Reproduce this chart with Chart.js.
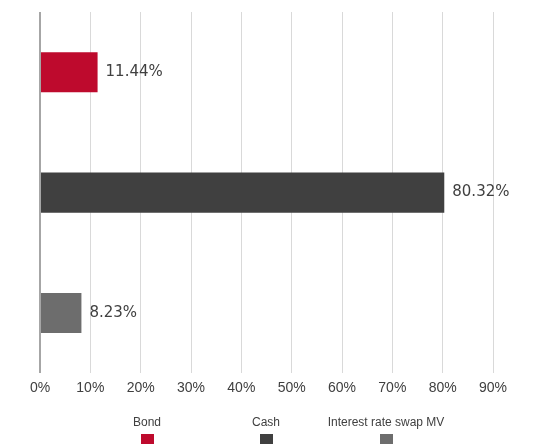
<!DOCTYPE html>
<html>
<head>
<meta charset="utf-8">
<script src="https://cdn.jsdelivr.net/npm/chart.js@4/dist/chart.umd.min.js"></script>
<style>
  html, body { margin: 0; padding: 0; background: #fff; }
  #wrap { position: relative; width: 555px; height: 444px; }
  #legend { position: absolute; top: 0; left: 0; width: 555px; height: 444px; pointer-events: none;
            font-family: "Liberation Sans", Arial, sans-serif; font-size: 12px; color: #404040; }
  .lg-text { position: absolute; top: 415px; transform: translateX(-50%); white-space: nowrap; }
  .lg-box { position: absolute; top: 434px; width: 13px; height: 11px; }
</style>
</head>
<body>
<div id="wrap">
  <canvas id="chart" width="555" height="444"></canvas>
  <div id="legend"></div>
</div>
<script>
// categories and values (percent)
const categories = ['Bond', 'Cash', 'Interest rate swap MV'];
const values = [11.44, 80.32, 8.23];
const colors = ['#be0a2d', '#404040', '#6d6d6d'];
const xTicks = [0, 10, 20, 30, 40, 50, 60, 70, 80, 90];
// legend centre positions
const legendX = [147, 266, 386];

// value labels drawn right of each bar
const valueLabels = {
    id: 'valueLabels',
    afterDatasetsDraw(chart) {
        const ctx = chart.ctx;
        const meta = chart.getDatasetMeta(0);
        ctx.save();
        ctx.font = '15px "DejaVu Sans", Verdana, sans-serif';
        ctx.fillStyle = '#404040';
        ctx.textBaseline = 'middle';
        meta.data.forEach((bar, i) => {
            ctx.fillText(values[i].toFixed(2) + '%', bar.x + 8, bar.y);
        });
        ctx.restore();
    }
};

const ctx = document.getElementById('chart').getContext('2d');
new Chart(ctx, {
    type: 'bar',
    data: {
        labels: categories,
        datasets: [{
            data: values,
            backgroundColor: colors,
            barPercentage: 1,
            categoryPercentage: 0.333
        }]
    },
    options: {
        indexAxis: 'y',
        responsive: false,
        animation: false,
        layout: { padding: { left: 40, right: 62, top: 12, bottom: 40 } },
        plugins: {
            legend: { display: false },
            tooltip: { enabled: false }
        },
        scales: {
            x: {
                min: 0,
                max: 90,
                afterBuildTicks: axis => { axis.ticks = xTicks.map(v => ({ value: v })); },
                border: { display: false },
                grid: {
                    drawTicks: false,
                    color: c => c.tick && c.tick.value === 0 ? '#a6a6a6' : '#d9d9d9',
                    lineWidth: c => c.tick && c.tick.value === 0 ? 2 : 1
                },
                ticks: {
                    padding: 7,
                    color: '#404040',
                    font: { family: '"Liberation Sans", Arial, sans-serif', size: 14 },
                    callback: v => v + '%'
                }
            },
            y: {
                display: false
            }
        }
    },
    plugins: [valueLabels]
});

// legend: text above a small colour square
const legend = document.getElementById('legend');
categories.forEach((name, i) => {
    const t = document.createElement('div');
    t.className = 'lg-text';
    t.style.left = legendX[i] + 'px';
    t.textContent = name;
    legend.appendChild(t);
    const b = document.createElement('div');
    b.className = 'lg-box';
    b.style.left = (legendX[i] - 6) + 'px';
    b.style.background = colors[i];
    legend.appendChild(b);
});
</script>
</body>
</html>
